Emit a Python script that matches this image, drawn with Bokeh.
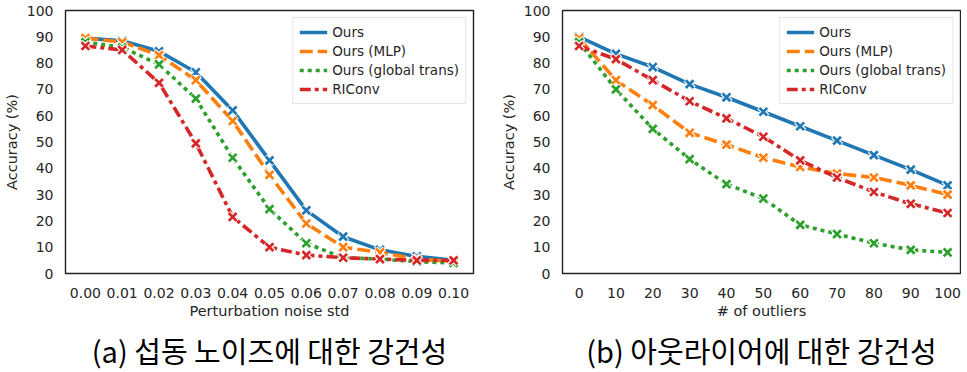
from bokeh.plotting import figure
from bokeh.layouts import row
from bokeh.models import FixedTicker, Range1d, Legend, LegendItem, Title
from bokeh.embed import file_html
from bokeh.resources import INLINE

# ---- data ----
noise_x = [0.00, 0.01, 0.02, 0.03, 0.04, 0.05, 0.06, 0.07, 0.08, 0.09, 0.10]
noise_tick_labels = ["0.00", "0.01", "0.02", "0.03", "0.04", "0.05", "0.06", "0.07", "0.08", "0.09", "0.10"]
noise_ours = [89.5, 88.5, 84.5, 76.5, 62.0, 43.0, 24.0, 14.0, 9.0, 6.5, 5.0]
noise_mlp = [89.5, 88.0, 83.0, 73.5, 58.0, 37.5, 19.0, 10.0, 8.0, 5.5, 4.5]
noise_global = [88.0, 86.0, 79.5, 66.5, 44.0, 24.5, 11.5, 6.0, 5.5, 4.5, 4.0]
noise_riconv = [86.5, 85.0, 72.5, 49.5, 21.5, 10.0, 7.0, 6.0, 5.5, 5.0, 5.0]

outlier_x = [0, 10, 20, 30, 40, 50, 60, 70, 80, 90, 100]
outlier_ours = [90.0, 83.5, 78.5, 72.0, 67.0, 61.5, 56.0, 50.5, 45.0, 39.5, 33.5]
outlier_mlp = [89.5, 73.5, 64.0, 53.5, 49.0, 44.0, 40.5, 38.0, 36.5, 33.5, 30.0]
outlier_global = [88.0, 70.0, 55.0, 43.5, 34.0, 28.5, 18.5, 15.0, 11.5, 9.0, 8.0]
outlier_riconv = [86.5, 81.5, 73.5, 65.5, 59.0, 52.0, 43.0, 36.5, 31.0, 26.5, 23.0]

y_ticks = [0, 10, 20, 30, 40, 50, 60, 70, 80, 90, 100]
series_names = ["Ours", "Ours (MLP)", "Ours (global trans)", "RIConv"]
colors = ["#1f77b4", "#ff7f0e", "#2ca02c", "#d62728"]
dashes = ["solid", "13 5", "4 4", "11 4 4 4"]

TXT = "#262626"
FONT = "DejaVu Sans"


def make_fig(xs, series, x_range, x_ticks, x_label, caption, frame_w, bl, br, cap_offset, overrides=None):
    p = figure(frame_width=frame_w, frame_height=263, output_backend="svg", toolbar_location=None,
               x_range=Range1d(*x_range), y_range=Range1d(0, 100),
               min_border_left=bl, min_border_right=br, min_border_top=10, min_border_bottom=0)
    p.grid.visible = False
    p.outline_line_color = "#222222"
    p.outline_line_width = 1.4
    p.background_fill_color = "white"
    p.border_fill_color = "white"
    for ax in (p.xaxis[0], p.yaxis[0]):
        ax.axis_line_color = None
        ax.major_tick_line_color = None
        ax.minor_tick_line_color = None
        ax.major_label_text_font = FONT
        ax.major_label_text_font_size = "14px"
        ax.major_label_text_color = TXT
        ax.axis_label_text_font = FONT
        ax.axis_label_text_font_size = "14.5px"
        ax.axis_label_text_font_style = "normal"
        ax.axis_label_text_color = TXT
    p.xaxis.ticker = FixedTicker(ticks=x_ticks)
    if overrides:
        p.xaxis.major_label_overrides = overrides
    p.yaxis.ticker = FixedTicker(ticks=y_ticks)
    p.xaxis.axis_label = x_label
    p.yaxis.axis_label = "Accuracy (%)"
    p.xaxis.major_label_standoff = 8
    p.yaxis.major_label_standoff = 6
    p.xaxis.axis_label_standoff = 2
    p.yaxis.axis_label_standoff = 4

    items = []
    for name, ys, c, d in zip(series_names, series, colors, dashes):
        r = p.line(xs, ys, line_color=c, line_width=3.6, line_dash=d)
        p.scatter(xs, ys, marker="x", size=12, line_color="white", line_width=5)
        p.scatter(xs, ys, marker="x", size=11, line_color=c, line_width=2.7)
        items.append(LegendItem(label=name, renderers=[r]))
    leg = Legend(items=items, location="top_right")
    leg.label_text_font = FONT
    leg.label_text_font_size = "13.5px"
    leg.label_text_color = TXT
    leg.glyph_width = 28
    leg.glyph_height = 16
    leg.label_height = 16
    leg.spacing = 3
    leg.padding = 6
    leg.margin = 7
    leg.border_line_color = "#cccccc"
    leg.border_line_width = 1
    leg.background_fill_alpha = 0.9
    p.add_layout(leg)

    t = Title(text=caption, align="center", text_font="Noto Sans CJK KR",
              text_font_size="29px", text_font_style="normal", text_color="black",
              standoff=10, offset=cap_offset)
    p.add_layout(t, "below")
    return p


p1 = make_fig(noise_x, [noise_ours, noise_mlp, noise_global, noise_riconv],
              (-0.0054, 0.1054), noise_x, "Perturbation noise std",
              "(a) 섭동 노이즈에 대한 강건성", 408, 55, 9, -5,
              overrides={x: lab for x, lab in zip(noise_x, noise_tick_labels)})
p2 = make_fig(outlier_x, [outlier_ours, outlier_mlp, outlier_global, outlier_riconv],
              (-4.5, 103.5), outlier_x, "# of outliers",
              "(b) 아웃라이어에 대한 강건성", 398, 80, 1, 12)

layout = row(p1, p2, spacing=0)

open("out.html", "w").write(file_html(layout, INLINE))
